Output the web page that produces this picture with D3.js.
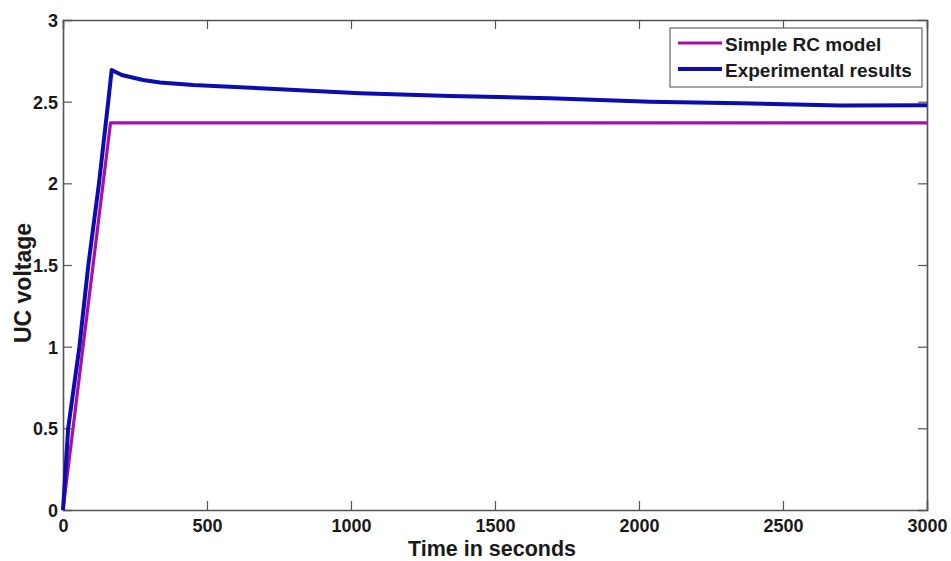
<!DOCTYPE html>
<html>
<head>
<meta charset="utf-8">
<script src="https://cdn.jsdelivr.net/npm/d3@7"></script>
<style>
  html, body { margin: 0; padding: 0; background: #ffffff; }
  svg { display: block; font-family: "Liberation Sans", Arial, sans-serif; }
</style>
</head>
<body>
<svg id="chart" width="951" height="561"></svg>
<script>
// ---- data ----
const xTicks = [0, 500, 1000, 1500, 2000, 2500, 3000];
const yTicks = [0, 0.5, 1, 1.5, 2, 2.5, 3];
const seriesNames = ["Simple RC model", "Experimental results"];
const timeRC = [0, 165, 3000];
const voltRC = [0, 2.37, 2.37];
const timeExp = [0, 18, 57, 88, 125, 157, 169, 204, 278, 337, 452, 684, 1031, 1344, 1691, 2038, 2351, 2698, 3000];
const voltExp = [0, 0.5, 1.0, 1.5, 2.0, 2.5, 2.694, 2.663, 2.633, 2.617, 2.602, 2.582, 2.551, 2.535, 2.521, 2.5, 2.49, 2.476, 2.478];

(function () {
  // ---- layout ----
  const L = 63, R = 927, T = 20, B = 510;
  const svg = d3.select("#chart");
  const x = d3.scaleLinear().domain([0, 3000]).range([L, R]);
  const y = d3.scaleLinear().domain([0, 3]).range([B, T]);
  const axisColor = "#555";
  const textColor = "#1a1a1a";
  const colors = ["#a80fa8", "#0c0cb0"];

  svg.append("rect").attr("x", 0).attr("y", 0).attr("width", 951).attr("height", 561).attr("fill", "#fff");

  // axes with inward ticks
  const tl = 9;
  const gBottom = svg.append("g").attr("transform", `translate(0,${B})`)
    .call(d3.axisBottom(x).tickValues(xTicks).tickSize(-tl).tickPadding(9).tickFormat(d3.format("d")));
  const gTop = svg.append("g").attr("transform", `translate(0,${T})`)
    .call(d3.axisTop(x).tickValues(xTicks).tickSize(-tl).tickFormat(""));
  const gLeft = svg.append("g").attr("transform", `translate(${L},0)`)
    .call(d3.axisLeft(y).tickValues(yTicks).tickSize(-tl).tickPadding(5).tickFormat(d => String(d)));
  const gRight = svg.append("g").attr("transform", `translate(${R},0)`)
    .call(d3.axisRight(y).tickValues(yTicks).tickSize(-tl).tickFormat(""));

  [gBottom, gTop, gLeft, gRight].forEach(g => {
    g.select(".domain").attr("stroke", axisColor).attr("stroke-width", 1.6);
    g.selectAll(".tick line").attr("stroke", axisColor).attr("stroke-width", 1.2);
    g.selectAll(".tick text").attr("fill", textColor).attr("font-size", 18).attr("font-weight", "bold")
      .attr("font-family", "'Liberation Sans', Arial, sans-serif");
  });
  gBottom.selectAll(".tick line").filter(d => d === 0 || d === 3000).remove();
  gTop.selectAll(".tick line").filter(d => d === 0 || d === 3000).remove();
  gLeft.selectAll(".tick line").filter(d => d === 0 || d === 3).remove();
  gRight.selectAll(".tick line").filter(d => d === 0 || d === 3).remove();
  gLeft.selectAll(".tick text").attr("dy", "0.36em");

  // lines
  const line = d3.line().x(d => x(d[0])).y(d => y(d[1]));
  const rcData = timeRC.map((t, i) => [t, voltRC[i]]);
  const expData = timeExp.map((t, i) => [t, voltExp[i]]);

  svg.append("path").datum(rcData).attr("d", line).attr("fill", "none")
    .attr("stroke", colors[0]).attr("stroke-width", 3.2).attr("stroke-linejoin", "round");
  svg.append("path").datum(expData).attr("d", line).attr("fill", "none")
    .attr("stroke", colors[1]).attr("stroke-width", 4).attr("stroke-linejoin", "round");

  // axis titles
  svg.append("text").attr("x", 492).attr("y", 556).attr("text-anchor", "middle")
    .attr("font-size", 21.5).attr("font-weight", "bold").attr("fill", textColor).text("Time in seconds");
  svg.append("text").attr("transform", `translate(31,283) rotate(-90)`).attr("text-anchor", "middle")
    .attr("font-size", 23).attr("font-weight", "bold").attr("fill", textColor).text("UC voltage");

  // legend
  const lg = svg.append("g");
  lg.append("rect").attr("x", 670).attr("y", 28).attr("width", 252).attr("height", 59)
    .attr("fill", "#fff").attr("stroke", "#666").attr("stroke-width", 1.2);
  const legendY = [43, 69];
  seriesNames.forEach((name, i) => {
    lg.append("line").attr("x1", 678).attr("x2", 722).attr("y1", legendY[i]).attr("y2", legendY[i])
      .attr("stroke", colors[i]).attr("stroke-width", i === 0 ? 3.2 : 4);
    lg.append("text").attr("x", 725).attr("y", legendY[i] + 8).attr("font-size", 19)
      .attr("font-weight", "bold").attr("fill", textColor).text(name);
  });
})();
</script>
</body>
</html>
